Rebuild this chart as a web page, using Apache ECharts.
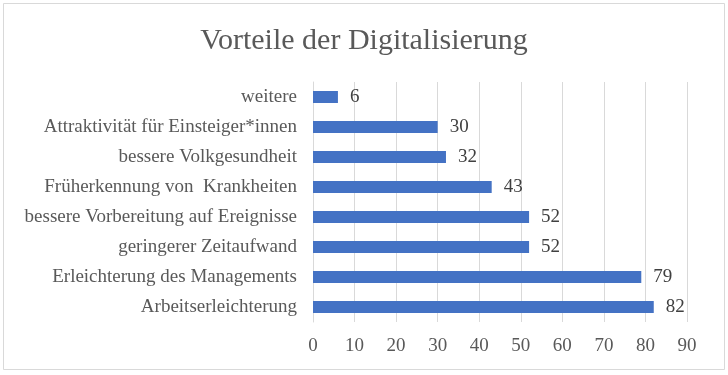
<!DOCTYPE html>
<html>
<head>
<meta charset="utf-8">
<script src="https://cdn.jsdelivr.net/npm/echarts@6/dist/echarts.min.js"></script>
<style>
  html, body { margin: 0; padding: 0; background: #fff; }
  #main { width: 728px; height: 375px; }
</style>
</head>
<body>
<div id="main"></div>
<script>
// Kategorien von unten nach oben
var categories = [
  "Arbeitserleichterung",
  "Erleichterung des Managements",
  "geringerer Zeitaufwand",
  "bessere Vorbereitung auf Ereignisse",
  "Früherkennung von  Krankheiten",
  "bessere Volkgesundheit",
  "Attraktivität für Einsteiger*innen",
  "weitere"
];
var values = [82, 79, 52, 52, 43, 32, 30, 6];
var titleText = "Vorteile der Digitalisierung";

var myChart = echarts.init(document.getElementById("main"));
var serif = "Liberation Serif";

var option = {
  animation: false,
  backgroundColor: "#fff",
  title: {
    text: titleText,
    left: "center",
    top: 21,
    textStyle: {
      fontFamily: serif,
      fontWeight: "normal",
      fontSize: 30,
      color: "#595959"
    }
  },
  graphic: [
    {
      // Rahmen
      type: "rect",
      shape: { x: 3.5, y: 3.5, width: 721, height: 366 },
      style: { fill: "none", stroke: "#d9d9d9", lineWidth: 1 },
      silent: true
    }
  ],
  grid: {
    left: 313,
    right: 41,
    top: 82,
    bottom: 53,
    containLabel: false
  },
  xAxis: {
    type: "value",
    min: 0,
    max: 90,
    interval: 10,
    axisLine: { show: false },
    axisTick: { show: false },
    splitLine: { lineStyle: { color: "#d9d9d9", width: 1 } },
    axisLabel: {
      margin: 15,
      fontFamily: serif,
      fontSize: 19,
      color: "#595959"
    }
  },
  yAxis: {
    type: "category",
    data: categories,
    axisTick: { show: false },
    axisLine: { show: true, lineStyle: { color: "#d9d9d9" } },
    axisLabel: {
      margin: 16,
      fontFamily: serif,
      fontSize: 19,
      color: "#595959"
    }
  },
  series: [
    {
      type: "bar",
      data: values,
      barWidth: 12,
      itemStyle: { color: "#4472C4" },
      label: {
        show: true,
        position: "right",
        distance: 12,
        fontFamily: serif,
        fontSize: 19,
        color: "#404040"
      }
    }
  ]
};

myChart.setOption(option);
</script>
</body>
</html>
